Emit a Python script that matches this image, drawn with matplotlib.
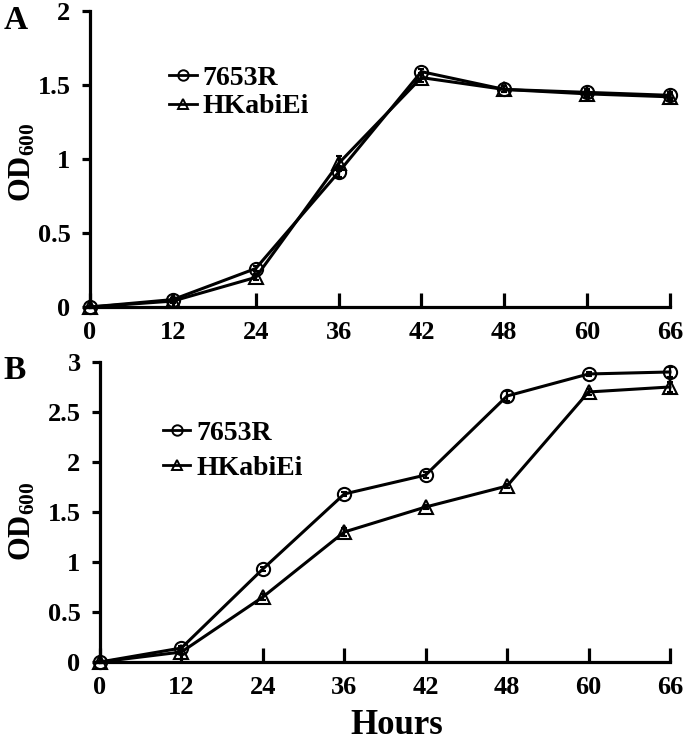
import matplotlib
matplotlib.use("Agg")
import matplotlib.pyplot as plt
from matplotlib.lines import Line2D
import numpy as np

plt.rcParams['font.family'] = ['Liberation Serif', 'DejaVu Serif']
plt.rcParams['font.weight'] = 'bold'
plt.rcParams['mathtext.fontset'] = 'custom'
plt.rcParams['mathtext.rm'] = 'Liberation Serif:bold'
plt.rcParams['mathtext.it'] = 'Liberation Serif:bold'
plt.rcParams['mathtext.bf'] = 'Liberation Serif:bold'
plt.rcParams['mathtext.default'] = 'rm'

hours = ['0', '12', '24', '36', '42', '48', '60', '66']

a_7653R = [0.0, 0.05, 0.26, 0.91, 1.59, 1.47, 1.45, 1.43]
a_7653R_err = [0.01, 0.01, 0.02, 0.03, 0.02, 0.02, 0.02, 0.02]
a_HK = [0.0, 0.04, 0.20, 0.97, 1.55, 1.47, 1.44, 1.42]
a_HK_err = [0.01, 0.01, 0.02, 0.05, 0.03, 0.02, 0.02, 0.02]

b_7653R = [0.0, 0.14, 0.93, 1.68, 1.87, 2.66, 2.88, 2.90]
b_7653R_err = [0.01, 0.02, 0.02, 0.02, 0.03, 0.05, 0.02, 0.05]
b_HK = [0.0, 0.10, 0.65, 1.30, 1.55, 1.76, 2.70, 2.75]
b_HK_err = [0.01, 0.02, 0.03, 0.04, 0.02, 0.02, 0.03, 0.05]

labels = ['7653R', 'HKabiEi']

fig = plt.figure(figsize=(6.85, 7.41), dpi=100)
axA = fig.add_axes([0.1314, 0.5857, 0.8467, 0.3995])
axB = fig.add_axes([0.146, 0.1066, 0.832, 0.4049])

def draw(ax, s1, e1, s2, e2, ymax, yticks, yticklabels, leg_anchor,
         lspace, ylab_x, ylab_y):
    x = np.arange(len(hours))
    for s, e, m in [(s1, e1, 'o'), (s2, e2, '^')]:
        ax.errorbar(x, s, yerr=e, color='black', lw=2.2, marker=m, ms=9.5,
                    mfc='none', mec='black', mew=1.5, capsize=2,
                    elinewidth=1.6, clip_on=False, zorder=3)
    ax.set_xlim(0, len(hours) - 1)
    ax.set_ylim(0, ymax)
    ax.set_xticks(x)
    ax.set_xticklabels(hours)
    ax.set_yticks(yticks)
    ax.set_yticklabels(yticklabels)
    for sp in ['top', 'right']:
        ax.spines[sp].set_visible(False)
    for sp in ['left', 'bottom']:
        ax.spines[sp].set_linewidth(2.3)
    ax.tick_params(axis='x', direction='in', length=10, width=2.3,
                   labelsize=19, pad=10)
    ax.tick_params(axis='y', direction='out', length=6, width=2.3,
                   labelsize=19, pad=8)
    for t in ax.get_xticklabels() + ax.get_yticklabels():
        t.set_fontweight('bold')
    ax.set_ylabel('OD$_{600}$', fontsize=22, fontweight='bold')
    ax.yaxis.set_label_coords(ylab_x, ylab_y)
    handles = [Line2D([], [], color='black', lw=2.0, marker=m, ms=7.5,
                      mfc='none', mec='black', mew=1.4) for m in ['o', '^']]
    ax.legend(handles, labels, loc='upper left', bbox_to_anchor=leg_anchor,
              frameon=False, handlelength=1.0, handletextpad=0.2,
              borderaxespad=0, borderpad=0, labelspacing=lspace,
              prop={'weight': 'bold', 'size': 20})

draw(axA, a_7653R, a_7653R_err, a_HK, a_HK_err, 2,
     [0, 0.5, 1, 1.5, 2], ['0', '0.5', '1', '1.5', '2'], (0.136, 0.815),
     0.1, -0.09, 0.49)
draw(axB, b_7653R, b_7653R_err, b_HK, b_HK_err, 3,
     [0, 0.5, 1, 1.5, 2, 2.5, 3], ['0', '0.5', '1', '1.5', '2', '2.5', '3'],
     (0.11, 0.805), 0.35, -0.11, 0.47)

axB.set_xlabel('Hours', fontsize=25, fontweight='bold')
axB.xaxis.set_label_coords(0.52, -0.155)

fig.text(0.005, 0.972, 'A', fontsize=24, fontweight='bold', va='center', ha='left')
fig.text(0.005, 0.500, 'B', fontsize=24, fontweight='bold', va='center', ha='left')

fig.savefig('out.png', dpi=100)
